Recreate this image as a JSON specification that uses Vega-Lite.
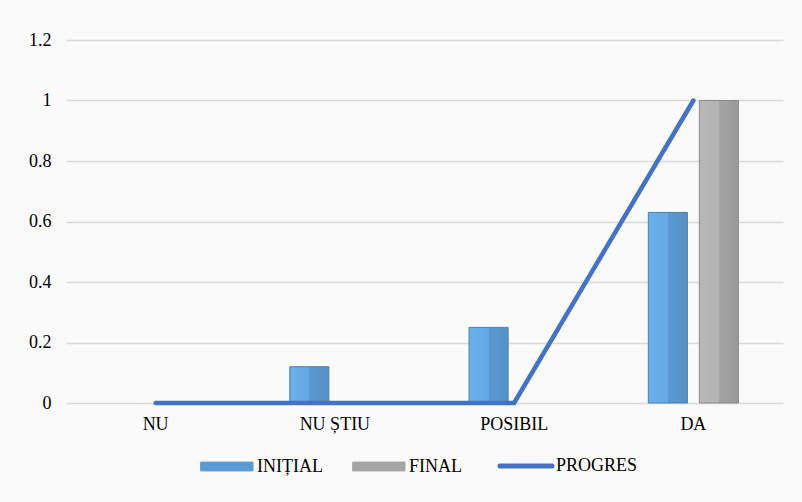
{
  "$schema": "https://vega.github.io/schema/vega-lite/v6.json",
  "width": 717,
  "height": 363,
  "autosize": {"type": "none"},
  "padding": {"left": 66, "top": 40, "right": 19, "bottom": 99},
  "background": "#fafafa",
  "config": {
    "view": {"stroke": null},
    "font": "Liberation Serif"
  },
  "data": {
    "values": [
      {"cat": "NU", "series": "INIȚIAL", "value": 0},
      {"cat": "NU ȘTIU", "series": "INIȚIAL", "value": 0.12},
      {"cat": "POSIBIL", "series": "INIȚIAL", "value": 0.25},
      {"cat": "DA", "series": "INIȚIAL", "value": 0.63},
      {"cat": "NU", "series": "FINAL", "value": 0},
      {"cat": "NU ȘTIU", "series": "FINAL", "value": 0},
      {"cat": "POSIBIL", "series": "FINAL", "value": 0},
      {"cat": "DA", "series": "FINAL", "value": 1},
      {"cat": "NU", "series": "PROGRES", "value": 0},
      {"cat": "NU ȘTIU", "series": "PROGRES", "value": 0},
      {"cat": "POSIBIL", "series": "PROGRES", "value": 0},
      {"cat": "DA", "series": "PROGRES", "value": 1}
    ]
  },
  "encoding": {
    "x": {
      "field": "cat",
      "type": "nominal",
      "sort": ["NU", "NU ȘTIU", "POSIBIL", "DA"],
      "scale": {"paddingInner": 0, "paddingOuter": 0},
      "axis": {
        "title": null,
        "labelAngle": 0,
        "labelFont": "Liberation Serif",
        "labelFontSize": 18,
        "labelColor": "#000000",
        "labelPadding": 12,
        "ticks": false,
        "domain": false
      }
    },
    "y": {
      "field": "value",
      "type": "quantitative",
      "scale": {"domain": [0, 1.2]},
      "axis": {
        "title": null,
        "values": [0, 0.2, 0.4, 0.6, 0.8, 1, 1.2],
        "format": ".1~f",
        "labelFont": "Liberation Serif",
        "labelFontSize": 18,
        "labelColor": "#000000",
        "labelPadding": 15,
        "ticks": false,
        "domain": false,
        "gridColor": "#d9d9d9",
        "gridWidth": 1.5
      }
    }
  },
  "layer": [
    {
      "transform": [{"filter": "datum.series === 'INIȚIAL' && datum.value > 0"}],
      "mark": {
        "type": "bar",
        "stroke": "#4a80b3",
        "strokeWidth": 1,
        "color": {
          "gradient": "linear", "x1": 0, "x2": 1, "y1": 0, "y2": 0,
          "stops": [
            {"offset": 0, "color": "#6aaeea"},
            {"offset": 0.5, "color": "#66a9e5"},
            {"offset": 0.5, "color": "#5b99d3"},
            {"offset": 1, "color": "#5590c8"}
          ]
        }
      },
      "encoding": {
        "xOffset": {
          "field": "series",
          "type": "nominal",
          "scale": {"domain": ["INIȚIAL", "FINAL"], "paddingInner": 0.235, "paddingOuter": 0.873}
        }
      }
    },
    {
      "transform": [{"filter": "datum.series === 'FINAL' && datum.value > 0"}],
      "mark": {
        "type": "bar",
        "stroke": "#8c8c8c",
        "strokeWidth": 1,
        "color": {
          "gradient": "linear", "x1": 0, "x2": 1, "y1": 0, "y2": 0,
          "stops": [
            {"offset": 0, "color": "#b8b8b8"},
            {"offset": 0.5, "color": "#b3b3b3"},
            {"offset": 0.5, "color": "#a3a3a3"},
            {"offset": 1, "color": "#999999"}
          ]
        }
      },
      "encoding": {
        "xOffset": {
          "field": "series",
          "type": "nominal",
          "scale": {"domain": ["INIȚIAL", "FINAL"], "paddingInner": 0.235, "paddingOuter": 0.873}
        }
      }
    },
    {
      "transform": [{"filter": "datum.series === 'PROGRES'"}],
      "mark": {"type": "line", "strokeWidth": 4.5, "strokeCap": "round"},
      "encoding": {
        "color": {
          "field": "series",
          "type": "nominal",
          "scale": {
            "domain": ["INIȚIAL", "FINAL", "PROGRES"],
            "range": ["#5b9bd5", "#a5a5a5", "#4472c4"]
          },
          "legend": {
            "title": null,
            "orient": "none",
            "direction": "horizontal",
            "legendX": 152,
            "legendY": 417,
            "labelFont": "Liberation Serif",
            "labelFontSize": 18,
            "labelColor": "#000000",
            "labelOffset": 21,
            "columnPadding": 28,
            "symbolSize": 2704,
            "symbolType": "M-1,-0.17H1V0.17H-1Z",
            "encode": {
              "symbols": {
                "update": {
                  "shape": {"signal": "datum.value === 'PROGRES' ? 'stroke' : 'M-1,-0.17H1V0.17H-1Z'"},
                  "fill": {"signal": "datum.value === 'PROGRES' ? 'transparent' : scale('color', datum.value)"},
                  "stroke": {"signal": "datum.value === 'PROGRES' ? '#4472c4' : (datum.value === 'INIȚIAL' ? '#3f73a6' : '#7f7f7f')"},
                  "strokeWidth": {"signal": "datum.value === 'PROGRES' ? 5 : 1"},
                  "strokeCap": {"value": "round"},
                  "opacity": {"value": 1}
                }
              }
            }
          }
        }
      }
    }
  ]
}
